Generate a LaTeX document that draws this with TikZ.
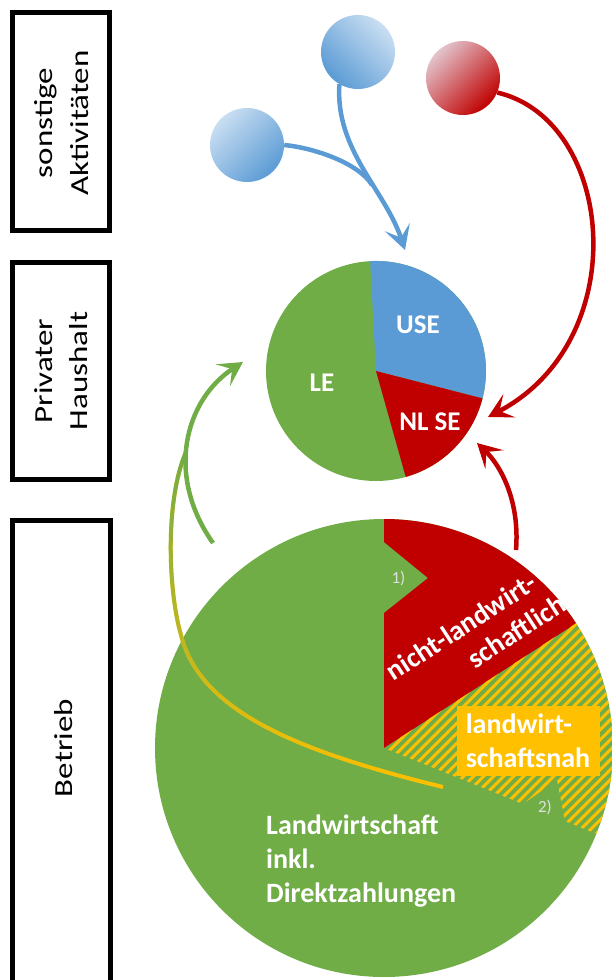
\documentclass[tikz,border=0pt]{standalone}
\usepackage{fontspec}
\setmainfont{Carlito}
\usetikzlibrary{arrows.meta,fadings}
\definecolor{agreen}{HTML}{70AD47}
\definecolor{ared}{HTML}{C00000}
\definecolor{ablue}{HTML}{5B9BD5}
\definecolor{ayellow}{HTML}{FFC000}
\definecolor{bluelight}{HTML}{C9DEF2}
\definecolor{redlight}{HTML}{E2C4CC}
\tikzfading[name=fadegreen, top color=transparent!0, bottom color=transparent!100]
\newcommand{\sidetext}[1]{\scalebox{1.27}[1]{\begin{tabular}{@{}c@{}}#1\end{tabular}}}

\begin{document}
\begin{tikzpicture}[x=1pt, y=-1pt,
    sidebox/.style={draw, line width=5pt, rotate=90, inner sep=0pt, minimum height=97pt},
    sidelabel/.style={rotate=90, inner sep=0pt, font=\fontsize{26}{35}\selectfont},
    ball/.style={circle, minimum size=74pt, inner sep=0pt},
    pielabel/.style={text=white, inner sep=0pt, font=\fontsize{27}{34}\selectfont\bfseries},
    biglabel/.style={text=white, inner sep=0pt, font=\fontsize{28}{34}\selectfont\bfseries},
    notelabel/.style={text=white!88!black, inner sep=0pt, font=\fontsize{17}{20}\selectfont},
    flow/.style={line width=4.5pt, -{Stealth[length=24pt, width=26pt, inset=11pt]}},
    hatchline/.style={ayellow, line width=3pt}]
  \useasboundingbox (0,0) rectangle (612,980);

  % boxes on the left
  \node (box0) [sidebox, minimum width=218pt] at (61,121.5) {};
  \node (box1) [sidebox, minimum width=217pt] at (61,371) {};
  \node (box2) [sidebox, minimum width=490pt, minimum height=98pt] at (61.5,765.5) {};
  \node (sonst) [sidelabel] at (63.5,123) {\sidetext{sonstige\\Aktivitäten}};
  \node (privat) [sidelabel] at (63,371) {\sidetext{Privater\\Haushalt}};
  \node (betrieb) [sidelabel] at (65,748) {\sidetext{Betrieb}};

  % Betrieb
  \coordinate (c0) at (384,748);
  \fill[agreen] (c0) circle[radius=229];
  \fill[ared] (c0) -- (384,613) -- (428,578) -- (384,542) -- (384,519)
    arc[start angle=-90, end angle=-33, radius=229] -- cycle;
  \begin{scope}
    \clip (c0) -- (523,804) -- (557,780) -- (565,821) -- (596.3,833.8)
      arc[start angle=22, end angle=-33, radius=229] -- cycle;
    \foreach \x in {250,260,...,590}
      \draw[hatchline] (\x,880) -- ++(320,-320);
  \end{scope}
  \node (nah) [fill=ayellow, text=white, align=left, minimum width=143pt, minimum height=70pt,
    inner sep=0pt, font=\fontsize{28}{34}\selectfont\bfseries] at (528,740.5) {landwirt-\\schaftsnah};
  \node (nicht) [biglabel, rotate=33, align=right] at (470,641) {nicht-landwirt-\\schaftlich\kern-13pt};
  \node (lw) [biglabel, align=left, anchor=west] at (266,861) {Landwirtschaft\\inkl.\\Direktzahlungen};
  \node (note1) [notelabel] at (398.5,578.5) {1)};
  \node (note2) [notelabel] at (545,807) {2)};

  % Privater Haushalt
  \coordinate (c1) at (376,371);
  \fill[agreen] (c1) circle[radius=110];
  \fill[ablue] (c1) -- (370.2,261.1) arc[start angle=-93, end angle=14.4, radius=110] -- cycle;
  \fill[ared] (c1) -- (482.5,398.4) arc[start angle=14.4, end angle=74.3, radius=110] -- cycle;
  \node (use) [pielabel] at (418,325) {USE};
  \node (le) [pielabel] at (322,383) {LE};
  \node (nlse) [pielabel] at (430,422) {NL SE};

  % sonstige Aktivitaeten
  \node (ball0) [ball, top color=bluelight, bottom color=ablue, shading angle=45] at (247,145) {};
  \node (ball1) [ball, top color=bluelight, bottom color=ablue, shading angle=-45] at (358,52) {};
  \node (ball2) [ball, top color=redlight, bottom color=ared, shading angle=45] at (463,78) {};

  \coordinate (tipblue) at (405,250);
  \coordinate (mergeblue) at (372,185);
  \coordinate (tipred) at (488,417);
  \coordinate (redstart) at (516,550);
  \coordinate (tipred2) at (477,443);
  \coordinate (greenstart) at (213,543);
  \coordinate (tipgreen) at (243,362);
  \coordinate (yellowstart) at (443,787);
  \coordinate (yellowend) at (186,452);

  \draw[flow, ablue] (ball1.240) .. controls (335,150) and (385,190) .. (tipblue);
  \draw[line width=4.5pt, ablue] (ball0.east) .. controls (315,148) and (359,163.5) .. (mergeblue);
  \draw[flow, ared] (ball2.-23) .. controls (615,120) and (635,340) .. (tipred);
  \draw[flow, ared] (redstart) .. controls (520,500) and (500,465) .. (tipred2);
  \draw[line width=4pt, ayellow] (yellowstart) .. controls (300,752) and (200,712) .. (181,635)
    .. controls (168,590) and (165,500) .. (yellowend);
  \draw[line width=4pt, agreen, path fading=fadegreen] (yellowstart) .. controls (300,752) and (200,712) .. (181,635)
    .. controls (168,590) and (165,500) .. (yellowend);
  \draw[flow, agreen] (greenstart) .. controls (165,475) and (185,400) .. (tipgreen);
\end{tikzpicture}
\end{document}
